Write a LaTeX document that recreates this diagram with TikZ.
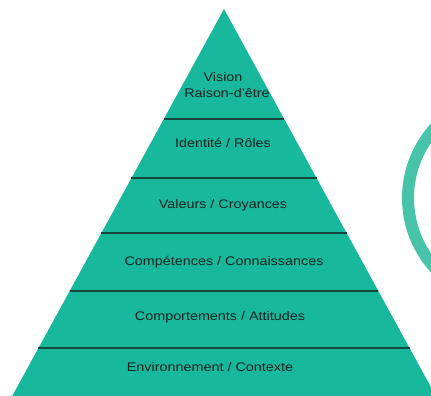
\documentclass[tikz,border=0pt]{standalone}
\usepackage{fontspec}
\newfontfamily\labfont[FakeStretch=1.15]{Liberation Sans}
\definecolor{pyr}{RGB}{24,184,157}
\definecolor{ring}{RGB}{70,195,168}
\definecolor{divline}{RGB}{22,70,60}
\definecolor{txt}{RGB}{22,34,32}
\tikzset{
  lab/.style={font=\labfont\fontsize{12.5}{14}\selectfont, text=txt, inner sep=0pt, align=center},
  divider/.style={draw=divline, line width=1.4pt}
}
\begin{document}
\begin{tikzpicture}[x=1pt,y=-1pt]
\useasboundingbox (0,0) rectangle (431,396);
\fill[white] (0,0) rectangle (431,396);
\clip (0,0) rectangle (431,396);
% ring arc
\draw[ring, line width=12pt] (512,198) circle[radius=104];
% pyramid
\coordinate (apex) at (224,9);
\coordinate (bl) at (10,400);
\coordinate (br) at (438,400);
\fill[pyr] (apex) -- (br) -- (bl) -- cycle;
% dividers (half width = 0.548*(y-9))
\foreach \yy in {119,178,233,291,348}{
  \pgfmathsetmacro{\hw}{0.5475*(\yy-9)}
  \draw[divider] ({224-\hw},\yy) -- ({224+\hw},\yy);
}
% labels
\node[lab] (vision) at (223,85) {Vision\\[2pt]\hspace*{8pt}Raison-d’être};
\node[lab] (ident) at (223,143) {Identité / Rôles};
\node[lab] (val) at (223,205) {Valeurs / Croyances};
\node[lab] (comp) at (224,262) {Compétences / Connaissances};
\node[lab] (compo) at (220,317) {Comportements / Attitudes};
\node[lab] (env) at (210,367) {Environnement / Contexte};
\end{tikzpicture}
\end{document}
